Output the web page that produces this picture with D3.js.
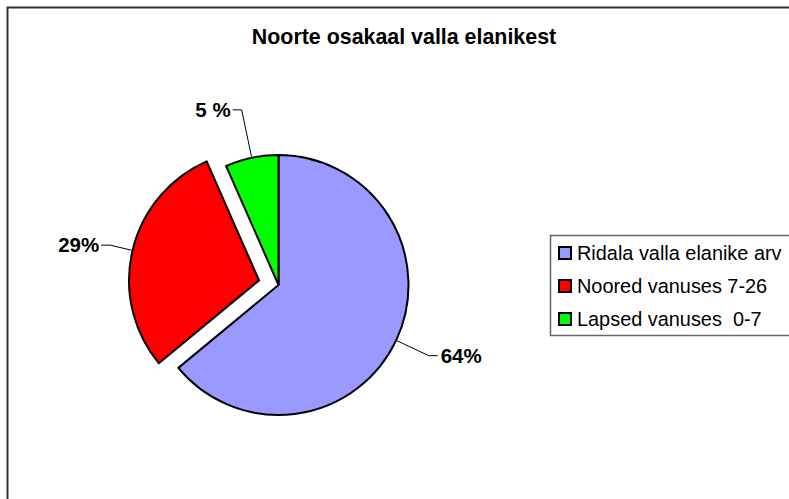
<!DOCTYPE html>
<html>
<head>
<meta charset="utf-8">
<script src="https://cdn.jsdelivr.net/npm/d3@7"></script>
<style>
  html, body { margin: 0; padding: 0; background: #fff; }
  svg { display: block; font-family: "Liberation Sans", Arial, sans-serif; }
</style>
</head>
<body>
<svg id="chart" width="789" height="499"></svg>
<script>
// ---- data ----
const title = "Noorte osakaal valla elanikest";
const categories = ["Ridala valla elanike arv", "Noored vanuses 7-26", "Lapsed vanuses  0-7"];
const values = [64, 29.4, 6.6];
const valueLabels = ["64%", "29%", "5 %"];
const colors = ["#9999FF", "#FF0000", "#00FF00"];

// ---- layout ----
const W = 789, H = 499;
const cx = 278.5, cy = 285, R = 130;
const explode = [0, 20, 0];
const elbowR = [166, 153, 179];
const tailLen = 9;

const svg = d3.select("#chart");

// chart frame
svg.append("rect")
  .attr("x", 7.5).attr("y", 7.5)
  .attr("width", 820).attr("height", 520)
  .attr("fill", "#fff").attr("stroke", "#333").attr("stroke-width", 2);

// title
svg.append("text")
  .attr("x", 404).attr("y", 44)
  .attr("text-anchor", "middle")
  .attr("font-size", 21.4).attr("font-weight", "bold")
  .text(title);

const pie = d3.pie().sort(null).value(d => d)(values);
const arc = d3.arc().innerRadius(0).outerRadius(R);

const g = svg.append("g").attr("transform", `translate(${cx},${cy})`);

function polar(a, r) { return [Math.sin(a) * r, -Math.cos(a) * r]; }

pie.forEach((d, i) => {
  const mid = (d.startAngle + d.endAngle) / 2;
  const [ox, oy] = polar(mid, explode[i]);
  const sg = g.append("g").attr("transform", `translate(${ox},${oy})`);
  sg.append("path")
    .attr("d", arc(d))
    .attr("fill", colors[i])
    .attr("stroke", "#000").attr("stroke-width", 2)
    .attr("stroke-linejoin", "round");

  // leader line
  const p0 = polar(mid, R + 1);
  const p1 = polar(mid, elbowR[i]);
  const right = Math.sin(mid) >= 0;
  const p2 = [p1[0] + (right ? tailLen : -tailLen), p1[1]];
  sg.append("polyline")
    .attr("points", [p0, p1, p2].map(p => p.join(",")).join(" "))
    .attr("fill", "none").attr("stroke", "#000").attr("stroke-width", 1);
  sg.append("text")
    .attr("x", p2[0] + (right ? 3 : -2))
    .attr("y", p2[1])
    .attr("dy", "0.35em")
    .attr("text-anchor", right ? "start" : "end")
    .attr("font-size", 20.5).attr("font-weight", "bold")
    .text(valueLabels[i]);
});

// legend
const lg = svg.append("g");
lg.append("rect")
  .attr("x", 550.5).attr("y", 235.5)
  .attr("width", 260).attr("height", 100)
  .attr("fill", "#fff").attr("stroke", "#666").attr("stroke-width", 1.5);
categories.forEach((c, i) => {
  const by = 259.5 + i * 33;
  lg.append("rect")
    .attr("x", 559).attr("y", by - 12.5)
    .attr("width", 12).attr("height", 12)
    .attr("fill", colors[i]).attr("stroke", "#000").attr("stroke-width", 2);
  lg.append("text")
    .attr("x", 577).attr("y", by)
    .attr("font-size", 19.9)
    .attr("xml:space", "preserve")
    .style("white-space", "pre")
    .text(c);
});
</script>
</body>
</html>
